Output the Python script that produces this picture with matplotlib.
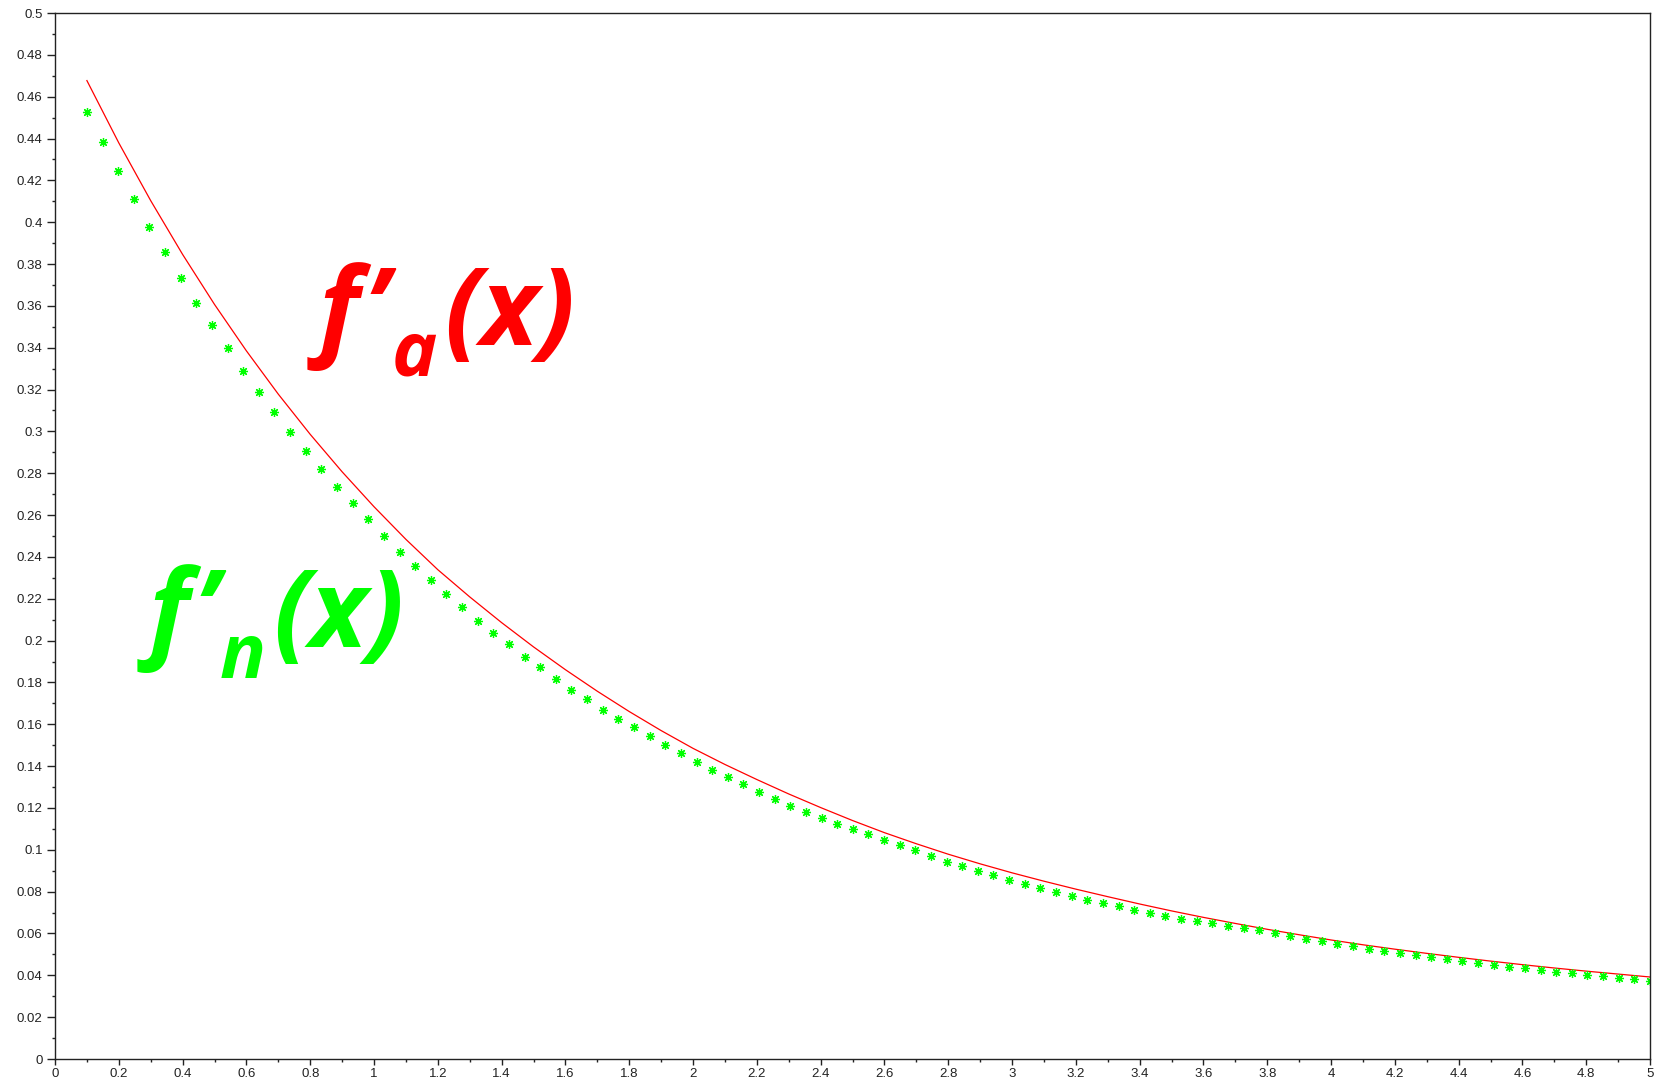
import matplotlib
matplotlib.use("Agg")
import matplotlib.pyplot as plt
import numpy as np
from matplotlib.ticker import MultipleLocator, FuncFormatter

# red curve: analytic derivative at x = 0.1, 0.2, ... 5.0
exact_x = np.linspace(0.1, 5.0, 50)
exact_y = [0.4677, 0.4379, 0.4103, 0.3846, 0.3607, 0.3385, 0.3178, 0.2986, 0.2807, 0.2640,
           0.2484, 0.2339, 0.2209, 0.2086, 0.1970, 0.1861, 0.1758, 0.1661, 0.1570, 0.1485,
           0.1408, 0.1336, 0.1267, 0.1202, 0.1140, 0.1082, 0.1029, 0.0979, 0.0933, 0.0890,
           0.0850, 0.0812, 0.0776, 0.0741, 0.0708, 0.0677, 0.0648, 0.0620, 0.0594, 0.0569,
           0.0546, 0.0525, 0.0505, 0.0486, 0.0468, 0.0451, 0.0435, 0.0420, 0.0406, 0.0392]

# green stars: numerical derivative, 101 samples between 0.1 and 5
num_x = np.linspace(0.1, 5.0, 101)
num_y = [0.4528, 0.4382, 0.4245, 0.4111, 0.3979, 0.3856, 0.3735, 0.3615, 0.3507, 0.3400,
         0.3290, 0.3188, 0.3091, 0.2996, 0.2908, 0.2819, 0.2736, 0.2656, 0.2580, 0.2501,
         0.2425, 0.2355, 0.2289, 0.2223, 0.2159, 0.2095, 0.2038, 0.1982, 0.1923, 0.1872,
         0.1815, 0.1764, 0.1719, 0.1668, 0.1627, 0.1585, 0.1542, 0.1500, 0.1461, 0.1421,
         0.1381, 0.1347, 0.1313, 0.1275, 0.1243, 0.1211, 0.1180, 0.1154, 0.1124, 0.1101,
         0.1075, 0.1049, 0.1023, 0.0997, 0.0971, 0.0944, 0.0921, 0.0900, 0.0879, 0.0858,
         0.0838, 0.0818, 0.0799, 0.0780, 0.0762, 0.0745, 0.0729, 0.0714, 0.0699, 0.0684,
         0.0670, 0.0658, 0.0648, 0.0638, 0.0628, 0.0616, 0.0602, 0.0589, 0.0576, 0.0564,
         0.0551, 0.0539, 0.0528, 0.0518, 0.0507, 0.0498, 0.0488, 0.0479, 0.0469, 0.0460,
         0.0450, 0.0442, 0.0434, 0.0425, 0.0417, 0.0410, 0.0403, 0.0395, 0.0388, 0.0381,
         0.0375]

RED = '#ff0000'
GREEN = '#00ff00'
W, H = 1660, 1090

fig = plt.figure(figsize=(W / 100, H / 100), dpi=100)
ax = fig.add_axes([55 / W, 1 - 1059 / H, 1595 / W, 1046 / H])

ax.plot(exact_x, exact_y, color=RED, linewidth=0.9)
ax.plot(num_x, num_y, linestyle='none', marker=(8, 2, 0), markersize=6.5,
        markeredgewidth=0.9, color=GREEN, markeredgecolor=GREEN)

ax.set_xlim(0, 5)
ax.set_ylim(0, 0.5)
ax.xaxis.set_major_locator(MultipleLocator(0.2))
ax.xaxis.set_minor_locator(MultipleLocator(0.1))
ax.yaxis.set_major_locator(MultipleLocator(0.02))
ax.yaxis.set_minor_locator(MultipleLocator(0.01))
fmt = FuncFormatter(lambda v, p: '%g' % round(v, 3))
ax.xaxis.set_major_formatter(fmt)
ax.yaxis.set_major_formatter(fmt)

for s in ax.spines.values():
    s.set_linewidth(1.0)
    s.set_color('#222222')

ax.tick_params(axis='y', which='major', direction='out', length=6, width=1, pad=3,
               labelsize=9.5, labelcolor='#222222', color='#222222')
ax.tick_params(axis='x', which='major', direction='out', length=4.5, width=1, pad=2,
               labelsize=9.5, labelcolor='#222222', color='#222222')
ax.tick_params(which='minor', direction='out', length=2.3, width=1, color='#222222')
for lab in ax.get_xticklabels() + ax.get_yticklabels():
    lab.set_family('Liberation Sans')


def put(txt, px, py, size, color):
    # px, py: left / baseline in picture pixels
    fig.text(px / W, 1 - py / H, txt, fontsize=size, color=color, ha='left',
             va='baseline', family='Open Sans', weight='bold', style='italic')


put('f\u2019', 319, 345, 78, RED)
put('a', 392, 376, 55, RED)
put('(x)', 444, 345, 78, RED)

put('f\u2019', 149, 647, 78, GREEN)
put('n', 220, 678, 55, GREEN)
put('(x)', 273, 647, 78, GREEN)

fig.savefig('out.png', dpi=100)
